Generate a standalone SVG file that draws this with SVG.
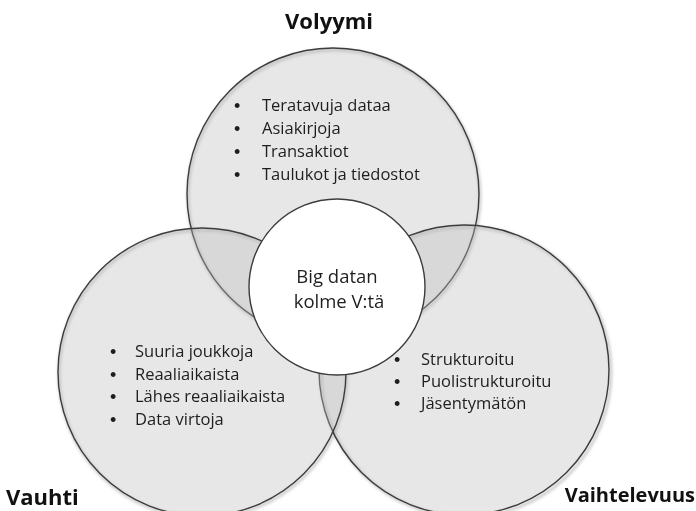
<svg xmlns="http://www.w3.org/2000/svg" width="696" height="511" viewBox="0 0 696 511">
  <defs>
    <filter id="soft" x="-10%" y="-10%" width="120%" height="120%">
      <feGaussianBlur stdDeviation="1.5"/>
    </filter>
    <style>
      .set { fill: #bdbdbd; fill-opacity: 0.36; stroke: #3c3c3c; stroke-width: 1.4; }
      .shade { fill: none; stroke: #9a9a9a; stroke-width: 2.5; opacity: 0.6; }
      .hub { fill: #ffffff; stroke: #3c3c3c; stroke-width: 1.4; }
      .item { font-family: "Open Sans", "Liberation Sans", sans-serif; font-size: 16.5px; fill: #1e1e1e; }
      .dot { font-family: "Liberation Sans", sans-serif; font-size: 18px; fill: #1e1e1e; }
      .hubtext { font-family: "Open Sans", "Liberation Sans", sans-serif; font-size: 18.5px; fill: #1e1e1e; text-anchor: middle; }
      .title { font-family: "Open Sans", "Liberation Sans", sans-serif; font-weight: bold; fill: #111111; }
    </style>
  </defs>

  <!-- soft shadows under the three rings -->
  <g id="shadows" filter="url(#soft)">
    <circle class="shade" cx="334" cy="196" r="146"/>
    <circle class="shade" cx="466" cy="372" r="145"/>
    <circle class="shade" cx="203" cy="374" r="144"/>
  </g>

  <g id="connectors"/>

  <g id="volyymi">
    <circle class="set" cx="333" cy="194" r="146"/>
    <text class="title" x="329" y="29" text-anchor="middle" font-size="22">Volyymi</text>
    <g class="item">
      <text class="dot" x="234" y="112">•</text><text x="262" y="111">Teratavuja dataa</text>
      <text class="dot" x="234" y="135">•</text><text x="262" y="134">Asiakirjoja</text>
      <text class="dot" x="234" y="158">•</text><text x="262" y="157">Transaktiot</text>
      <text class="dot" x="234" y="181">•</text><text x="262" y="180">Taulukot ja tiedostot</text>
    </g>
  </g>

  <g id="vaihtelevuus">
    <circle class="set" cx="464" cy="370" r="145"/>
    <text class="title" x="695" y="502" text-anchor="end" font-size="20">Vaihtelevuus</text>
    <g class="item">
      <text class="dot" x="394" y="366">•</text><text x="421" y="365">Strukturoitu</text>
      <text class="dot" x="394" y="388">•</text><text x="421" y="387">Puolistrukturoitu</text>
      <text class="dot" x="394" y="410">•</text><text x="421" y="409">Jäsentymätön</text>
    </g>
  </g>

  <g id="vauhti">
    <circle class="set" cx="202" cy="372" r="144"/>
    <text class="title" x="6" y="505" font-size="22">Vauhti</text>
    <g class="item">
      <text class="dot" x="110" y="358">•</text><text x="135" y="357">Suuria joukkoja</text>
      <text class="dot" x="110" y="381">•</text><text x="135" y="380">Reaaliaikaista</text>
      <text class="dot" x="110" y="403">•</text><text x="135" y="402">Lähes reaaliaikaista</text>
      <text class="dot" x="110" y="426">•</text><text x="135" y="425">Data virtoja</text>
    </g>
  </g>

  <g id="big-data">
    <circle class="hub" cx="337" cy="287" r="88"/>
    <text class="hubtext" x="337" y="283">Big datan</text>
    <text class="hubtext" x="339" y="308">kolme V:tä</text>
  </g>
</svg>
